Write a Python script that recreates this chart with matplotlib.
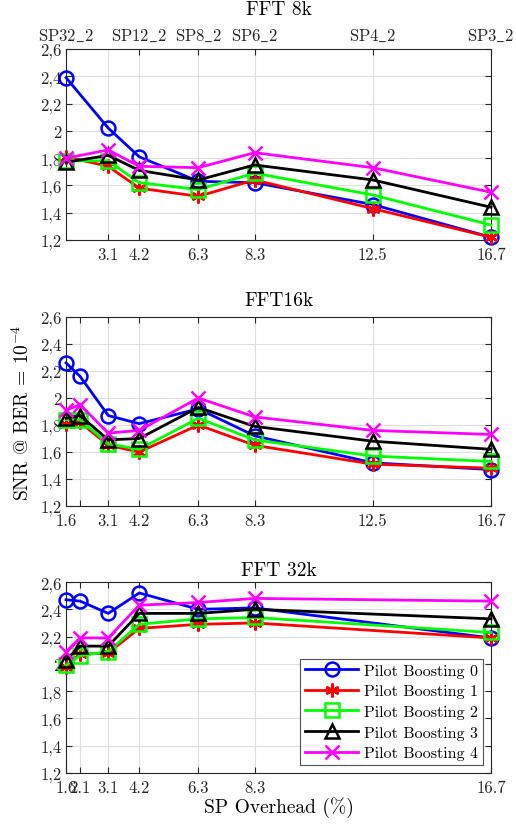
import matplotlib
matplotlib.use("Agg")
import matplotlib.pyplot as plt

plt.rcParams['mathtext.fontset'] = 'cm'
plt.rcParams['font.family'] = ['cmr10', 'DejaVu Serif']
plt.rcParams['axes.unicode_minus'] = False

# ---------------- data ----------------
series_names = ['Pilot Boosting 0', 'Pilot Boosting 1', 'Pilot Boosting 2',
                'Pilot Boosting 3', 'Pilot Boosting 4']
colors = ['#0000ff', '#ff0000', '#00ff00', '#000000', '#ff00ff']
markers = ['o', (6, 2, 0), 's', '^', 'x']

x_8k = [1.6, 3.1, 4.2, 6.3, 8.3, 12.5, 16.7]
pb0_8k = [2.39, 2.02, 1.81, 1.63, 1.62, 1.46, 1.22]
pb1_8k = [1.81, 1.74, 1.58, 1.52, 1.64, 1.43, 1.22]
pb2_8k = [1.78, 1.78, 1.62, 1.57, 1.69, 1.53, 1.31]
pb3_8k = [1.77, 1.82, 1.71, 1.64, 1.75, 1.64, 1.44]
pb4_8k = [1.80, 1.86, 1.74, 1.73, 1.84, 1.73, 1.55]

x_16k = [1.6, 2.1, 3.1, 4.2, 6.3, 8.3, 12.5, 16.7]
pb0_16k = [2.26, 2.16, 1.87, 1.81, 1.92, 1.72, 1.52, 1.47]
pb1_16k = [1.81, 1.82, 1.65, 1.60, 1.80, 1.65, 1.51, 1.48]
pb2_16k = [1.84, 1.84, 1.66, 1.62, 1.85, 1.69, 1.57, 1.53]
pb3_16k = [1.85, 1.87, 1.69, 1.70, 1.93, 1.79, 1.68, 1.62]
pb4_16k = [1.91, 1.95, 1.74, 1.76, 2.00, 1.86, 1.76, 1.73]

x_32k = [1.6, 2.1, 3.1, 4.2, 6.3, 8.3, 16.7]
pb0_32k = [2.47, 2.46, 2.37, 2.52, 2.40, 2.41, 2.19]
pb1_32k = [1.98, 2.07, 2.08, 2.26, 2.29, 2.30, 2.19]
pb2_32k = [1.99, 2.06, 2.09, 2.29, 2.33, 2.34, 2.23]
pb3_32k = [2.03, 2.13, 2.13, 2.37, 2.37, 2.40, 2.33]
pb4_32k = [2.09, 2.19, 2.19, 2.43, 2.45, 2.48, 2.46]

titles = ['FFT 8k', 'FFT16k', 'FFT 32k']
xticks_8k = [3.1, 4.2, 6.3, 8.3, 12.5, 16.7]
xticks_16k = [1.6, 2.1, 3.1, 4.2, 6.3, 8.3, 12.5, 16.7]
xticklabels_16k = ['1.6', '', '3.1', '4.2', '6.3', '8.3', '12.5', '16.7']
xticks_32k = [1.6, 2.1, 3.1, 4.2, 6.3, 8.3, 16.7]
top_ticks = [1.6, 4.2, 6.3, 8.3, 12.5, 16.7]
top_labels = ['SP32_2', 'SP12_2', 'SP8_2', 'SP6_2', 'SP4_2', 'SP3_2']
yticks = [1.2, 1.4, 1.6, 1.8, 2.0, 2.2, 2.4, 2.6]
yticklabels = ['1,2', '1,4', '1,6', '1,8', '2', '2,2', '2,4', '2,6']

TICK_COLOR = '#262626'
TICK_FS = 12
TITLE_FS = 14

fig = plt.figure(figsize=(5.16, 8.29), dpi=100)
L, W = 0.128, 0.8236
ax1 = fig.add_axes([L, 0.7093, W, 0.2304])
ax2 = fig.add_axes([L, 0.3884, W, 0.2280])
ax3 = fig.add_axes([L, 0.0664, W, 0.2303])

datasets = [
    (ax1, x_8k, [pb0_8k, pb1_8k, pb2_8k, pb3_8k, pb4_8k]),
    (ax2, x_16k, [pb0_16k, pb1_16k, pb2_16k, pb3_16k, pb4_16k]),
    (ax3, x_32k, [pb0_32k, pb1_32k, pb2_32k, pb3_32k, pb4_32k]),
]

for (ax, xs, ys), title in zip(datasets, titles):
    for y, c, m, name in zip(ys, colors, markers, series_names):
        ax.plot(xs, y, color=c, marker=m, markersize=10, markerfacecolor='none',
                markeredgewidth=1.8, linewidth=2, label=name, clip_on=False, zorder=3)
    ax.set_xlim(1.6, 16.7)
    ax.set_ylim(1.2, 2.6)
    ax.set_yticks(yticks)
    ax.set_yticklabels(yticklabels)
    ax.grid(True, color='#dfdfdf', linewidth=0.8)
    ax.set_axisbelow(True)
    ax.tick_params(direction='in', length=4, top=True, right=True,
                   labelsize=TICK_FS, colors=TICK_COLOR, width=0.8)
    for sp in ax.spines.values():
        sp.set_color(TICK_COLOR)
        sp.set_linewidth(0.8)

ax1.set_xticks(xticks_8k)
ax1.set_xticklabels([str(t) for t in xticks_8k])
ax2.set_xticks(xticks_16k)
ax2.set_xticklabels(xticklabels_16k)
ax3.set_xticks(xticks_32k)
ax3.set_xticklabels([str(t) for t in xticks_32k])
for ax in (ax1, ax2, ax3):
    ax.tick_params(axis='x', pad=5)
    ax.tick_params(axis='y', pad=3)

# top axis for 8k
axt = ax1.twiny()
axt.set_xlim(1.6, 16.7)
axt.set_xticks(top_ticks)
axt.set_xticklabels([r'$\mathrm{' + s.replace('_', r'\_') + '}$' for s in top_labels])
axt.tick_params(direction='in', length=4, labelsize=TICK_FS, colors=TICK_COLOR, pad=4)
for sp in axt.spines.values():
    sp.set_visible(False)

ax1.set_title(titles[0], fontsize=TITLE_FS, pad=25)
ax2.set_title(titles[1], fontsize=TITLE_FS, pad=9)
ax3.set_title(titles[2], fontsize=TITLE_FS, pad=5)

ax2.set_ylabel(r'SNR @ BER = $10^{-4}$', fontsize=TITLE_FS, labelpad=5)
ax3.set_xlabel('SP Overhead (%)', fontsize=TITLE_FS, labelpad=1)

leg = ax3.legend(loc='lower right', fontsize=11.5, frameon=True, fancybox=False,
                 edgecolor='#262626', borderaxespad=0.5, handlelength=3.3,
                 labelspacing=0.4, borderpad=0.3, handletextpad=0.4)
leg.get_frame().set_linewidth(0.8)

fig.savefig('out.png', dpi=100)
